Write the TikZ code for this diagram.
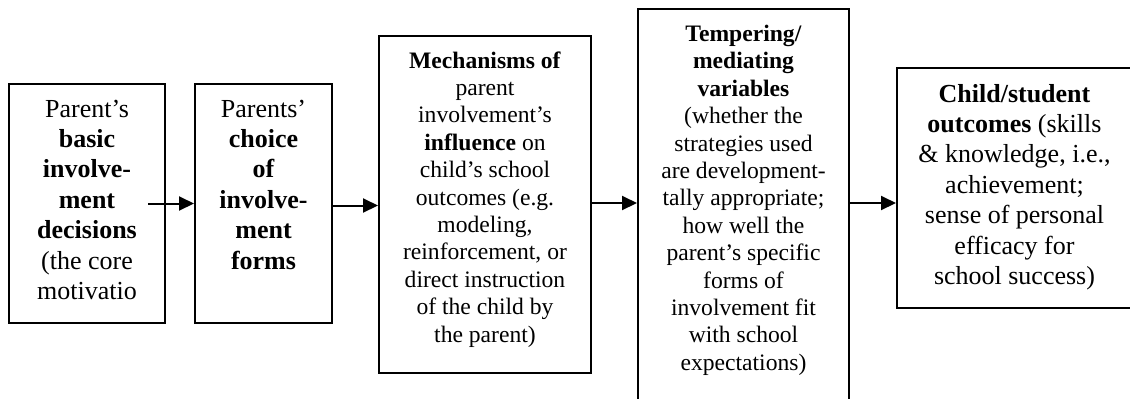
\documentclass[tikz,border=0pt]{standalone}
\usepackage{fontspec}
\setmainfont{Liberation Serif}
\usetikzlibrary{arrows.meta}
\begin{document}
\begin{tikzpicture}[x=0.5pt,y=-0.5pt,
  boxnode/.style={draw, line width=1pt, inner sep=0pt, anchor=north west},
  lbl/.style={inner sep=0pt, anchor=base},
  big/.style={font=\fontsize{13}{15.2}\selectfont},
  small/.style={font=\fontsize{11.8}{13.7}\selectfont},
  arr/.style={line width=1pt, -{Triangle[length=7.5pt,width=7pt]}}]
\useasboundingbox (0,0) rectangle (1130,398);
\clip (0,0) rectangle (1130,398);
% boxes
\node[boxnode, minimum width=78pt, minimum height=119.5pt] (b1) at (8,83) {};
\node[boxnode, minimum width=68.5pt, minimum height=119.5pt] (b2) at (194,83) {};
\node[boxnode, minimum width=106pt, minimum height=168.5pt] (b3) at (378,35) {};
\node[boxnode, minimum width=105.5pt, minimum height=201pt] (b4) at (637,8) {};
\node[boxnode, minimum width=120pt, minimum height=120pt] (b5) at (896,67) {};
% texts
\node[lbl, big] (t1) at ([yshift=-17pt]b1.north) {\parbox[t]{120pt}{\centering
  Parent’s\\ \textbf{basic}\\ \textbf{involve-}\\ \textbf{ment}\\ \textbf{decisions}\\ (the core\\ motivatio}};
\node[lbl, big] (t2) at ([yshift=-17pt]b2.north) {\parbox[t]{120pt}{\centering
  Parents’\\ \textbf{choice}\\ \textbf{of}\\ \textbf{involve-}\\ \textbf{ment}\\ \textbf{forms}}};
\node[lbl, small] (t3) at ([yshift=-16.5pt]b3.north) {\parbox[t]{150pt}{\centering
  \textbf{Mechanisms of}\\ parent\\ involvement’s\\ \textbf{influence} on\\ child’s school\\ outcomes (e.g.\\ modeling,\\ reinforcement, or\\ direct instruction\\ of the child by\\ the parent)}};
\node[lbl, small] (t4) at ([yshift=-16.7pt]b4.north) {\parbox[t]{150pt}{\centering
  \textbf{Tempering/}\\ \textbf{mediating}\\ \textbf{variables}\\ (whether the\\ strategies used\\ are development-\\ tally appropriate;\\ how well the\\ parent’s specific\\ forms of\\ involvement fit\\ with school\\ expectations)}};
\node[lbl, big] (t5) at ([xshift=-1.25pt,yshift=-17.5pt]b5.north) {\parbox[t]{150pt}{\centering
  \textbf{Child/student}\\ \textbf{outcomes} (skills\\ \& knowledge, i.e.,\\ achievement;\\ sense of personal\\ efficacy for\\ school success)}};
% arrows
\draw[arr] ([xshift=-9pt]b1.east) -- (b2.west);
\draw[arr] ([yshift=-1pt]b2.east) coordinate (a2) -- (a2 -| b3.west);
\draw[arr] ([yshift=0.75pt]b3.east) coordinate (a3) -- (a3 -| b4.west);
\draw[arr] (a3 -| b4.east) -- (a3 -| b5.west);
\end{tikzpicture}
\end{document}
